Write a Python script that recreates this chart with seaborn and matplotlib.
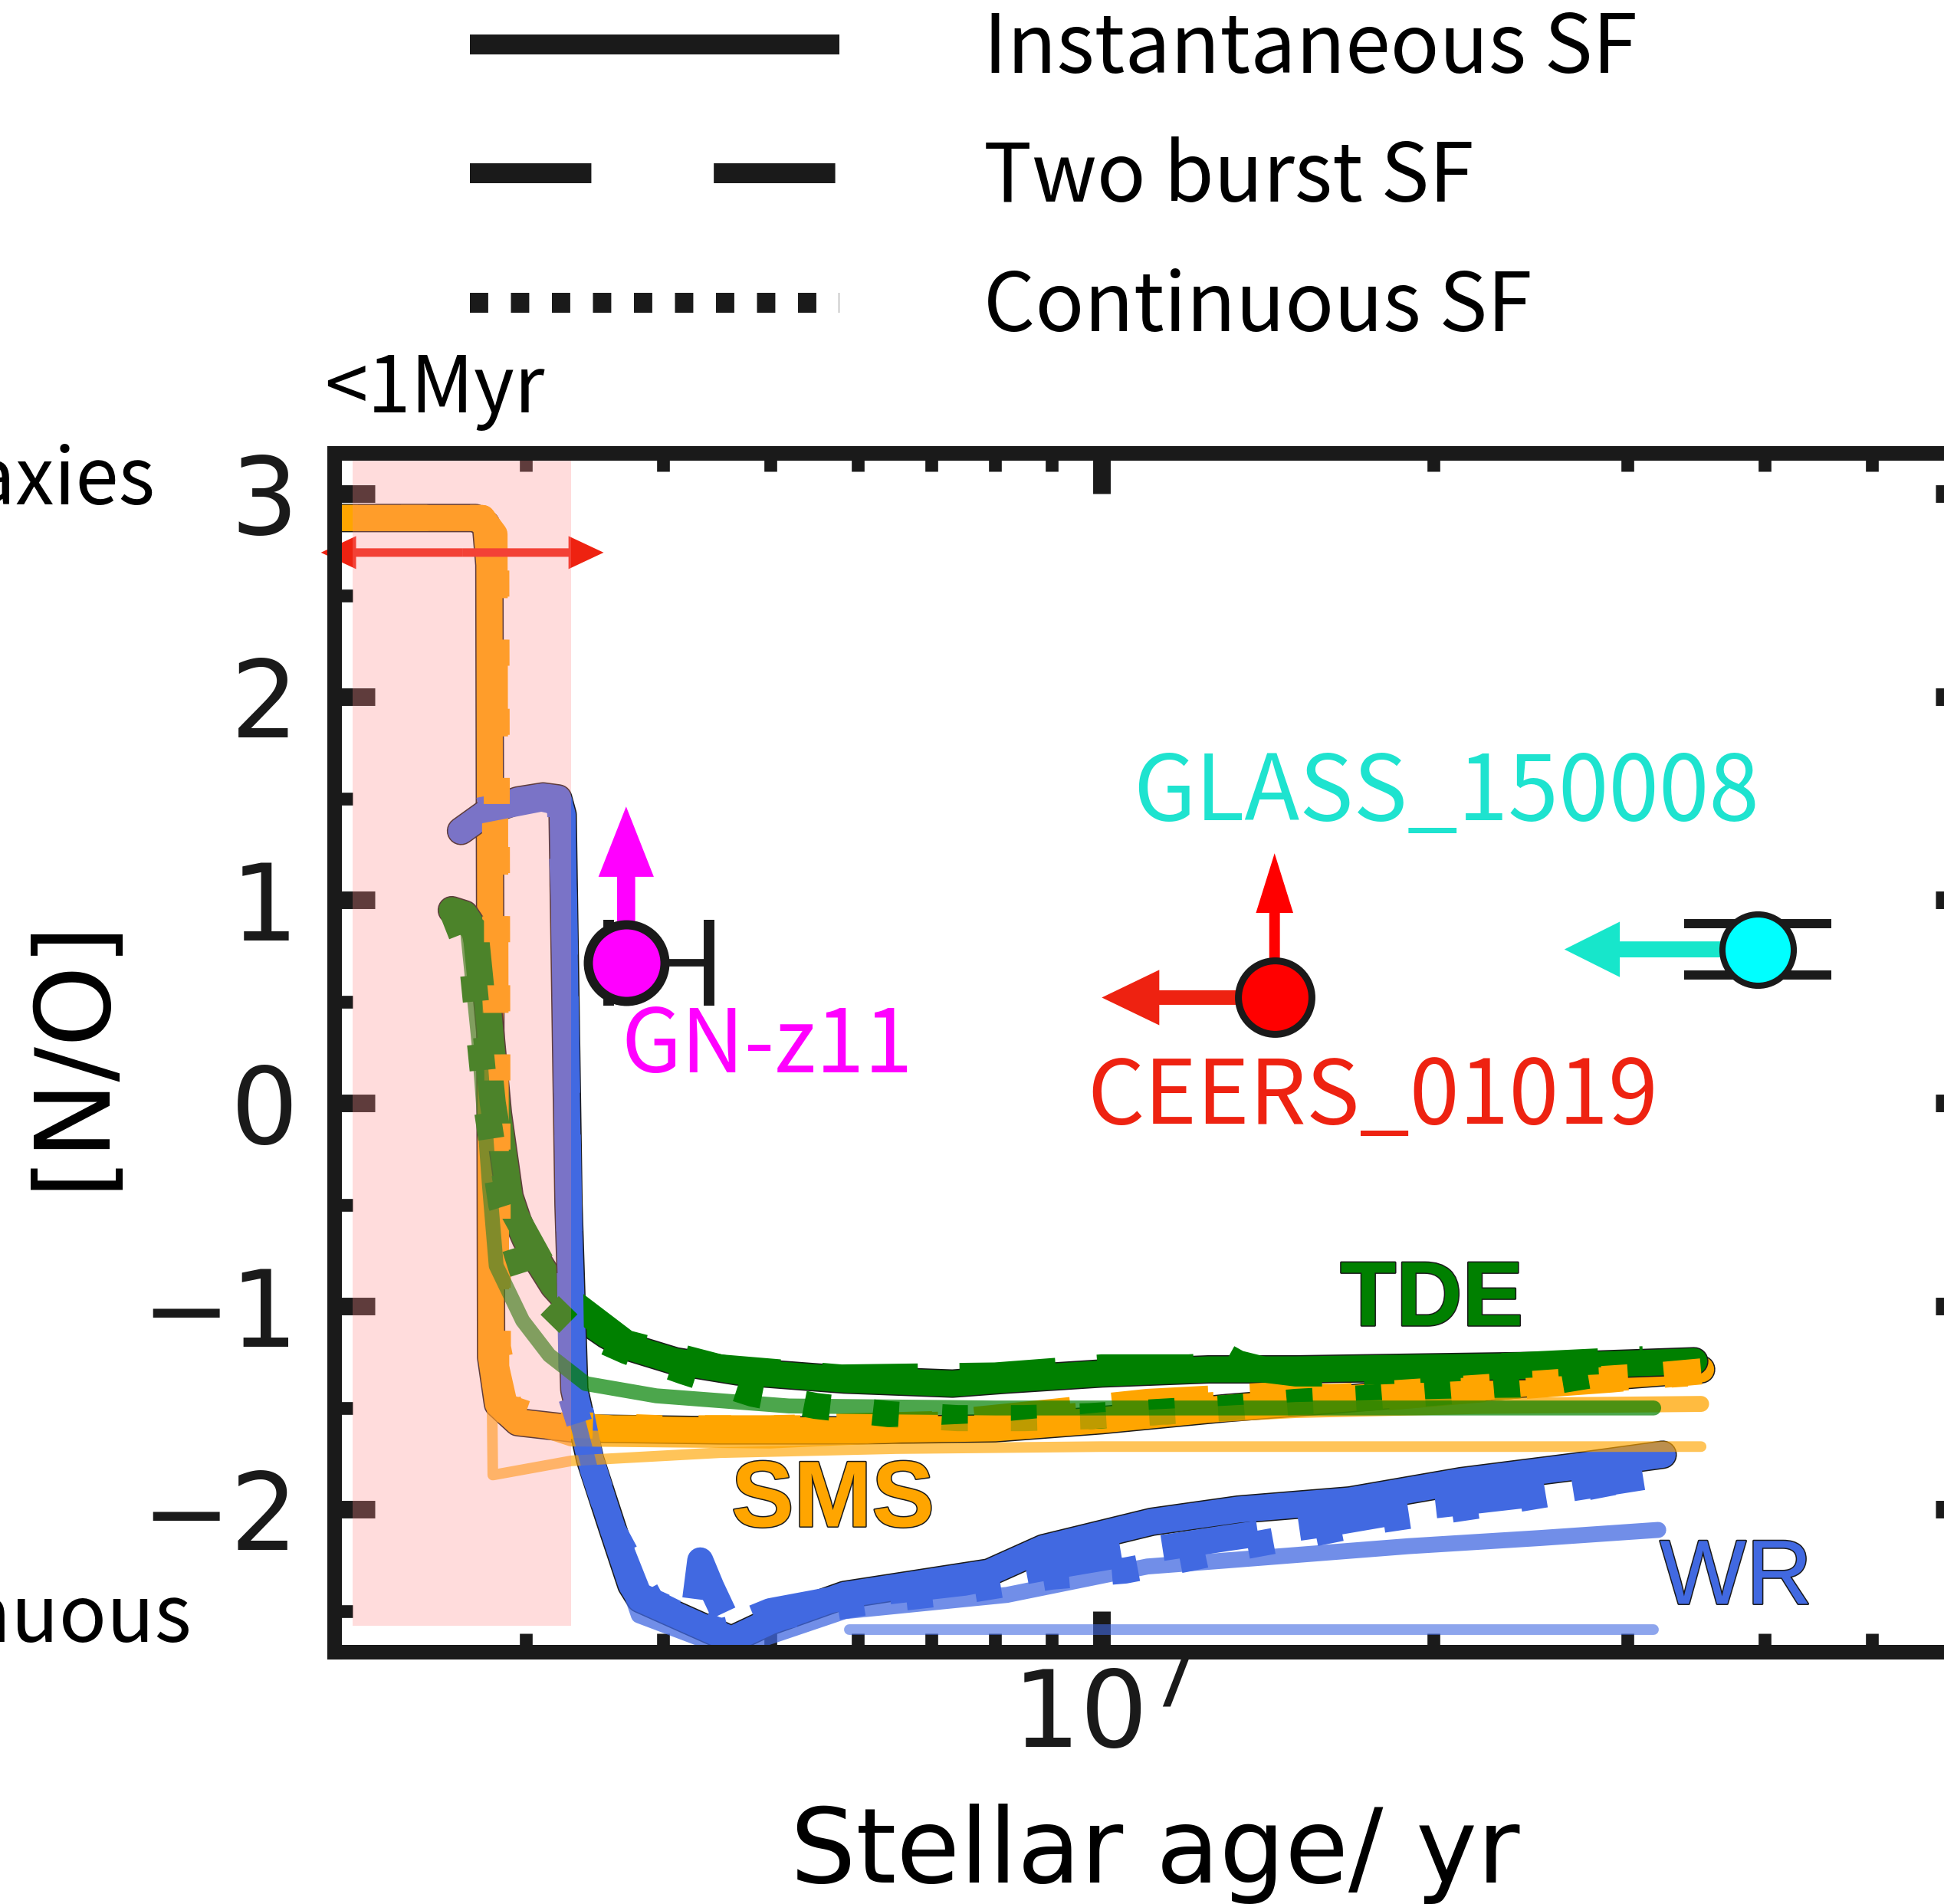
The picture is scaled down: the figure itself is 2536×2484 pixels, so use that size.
import matplotlib
matplotlib.use("Agg")
import matplotlib.pyplot as plt
import matplotlib.patheffects as pe
from matplotlib.lines import Line2D
from matplotlib.patches import FancyArrowPatch, ArrowStyle
from matplotlib.ticker import MultipleLocator, NullFormatter
import seaborn as sns

sns.set_theme(style="ticks")
plt.rcParams["font.family"] = ["DejaVu Sans"]
plt.rcParams["mathtext.fontset"] = "dejavusans"
plt.rcParams["axes.unicode_minus"] = True
for key in ("text.color", "axes.labelcolor", "xtick.color", "ytick.color", "axes.edgecolor"):
    plt.rcParams[key] = "black"
JP = ["Noto Sans CJK JP", "DejaVu Sans"]

# ---------------- model tracks: stellar age [yr] vs [N/O] ----------------
# Supermassive stars (SMS)
sms_inst_age = [2.0e6, 2.70e6, 2.76e6, 2.78e6, 2.79e6, 2.83e6, 2.95e6, 3.3e6, 4.5e6,
                6.0e6, 8.0e6, 1.0e7, 1.3e7, 1.7e7, 2.2e7, 2.8e7, 3.5e7]
sms_inst_no = [2.88, 2.88, 2.85, 2.65, -1.25, -1.48, -1.57, -1.60, -1.61,
               -1.61, -1.60, -1.56, -1.50, -1.45, -1.40, -1.35, -1.31]
sms_burst_age = [2.0e6, 2.74e6, 2.81e6, 2.82e6, 2.88e6, 3.1e6, 3.6e6, 5.0e6, 7.0e6,
                 9.0e6, 1.1e7, 1.4e7, 1.8e7, 2.3e7, 2.9e7, 3.5e7]
sms_burst_no = [2.88, 2.88, 2.80, -1.30, -1.52, -1.58, -1.60, -1.60, -1.58,
                -1.52, -1.47, -1.44, -1.45, -1.40, -1.36, -1.32]
sms_cont_age = [2.0e6, 2.74e6, 2.82e6, 2.83e6, 2.9e6, 3.2e6, 4.0e6, 6.0e6, 8.0e6,
                1.0e7, 1.3e7, 1.7e7, 2.2e7, 2.8e7, 3.4e7]
sms_cont_no = [2.88, 2.88, 2.78, -1.20, -1.50, -1.58, -1.60, -1.60, -1.57,
               -1.53, -1.48, -1.44, -1.40, -1.36, -1.33]
sms_var_a_age = [2.79e6, 2.80e6, 3.3e6, 4.5e6, 6.5e6, 1.0e7, 3.5e7]
sms_var_a_no = [-1.00, -1.83, -1.76, -1.72, -1.70, -1.69, -1.69]
sms_var_b_age = [2.83e6, 2.9e6, 3.3e6, 5.0e6, 8.0e6, 1.0e7, 1.5e7, 2.2e7, 3.5e7]
sms_var_b_no = [-1.20, -1.55, -1.65, -1.66, -1.61, -1.56, -1.51, -1.49, -1.48]

# Tidal disruption events (TDE)
tde_inst_age = [2.57e6, 2.64e6, 2.70e6, 2.75e6, 2.83e6, 2.90e6, 2.95e6, 3.0e6, 3.08e6,
                3.18e6, 3.28e6, 3.4e6, 3.55e6, 3.72e6, 4.1e6, 4.67e6, 5.84e6, 7.32e6,
                8.2e6, 1.0e7, 1.25e7, 1.5e7, 2.0e7, 2.7e7, 3.45e7]
tde_inst_no = [0.95, 0.93, 0.85, 0.67, -0.05, -0.46, -0.58, -0.67, -0.78,
               -0.90, -0.98, -1.07, -1.14, -1.20, -1.27, -1.32, -1.36, -1.38,
               -1.36, -1.33, -1.31, -1.31, -1.30, -1.29, -1.27]
tde_burst_age = [2.57e6, 2.7e6, 2.8e6, 2.9e6, 3.2e6, 3.7e6, 4.5e6, 5.8e6, 8.0e6,
                 1.0e7, 1.2e7, 1.28e7, 1.29e7, 1.33e7, 1.4e7, 1.5e7, 1.6e7, 2.0e7,
                 2.6e7, 3.1e7]
tde_burst_no = [0.95, 0.85, 0.00, -0.50, -0.92, -1.18, -1.30, -1.35, -1.34,
                -1.30, -1.30, -1.29, -1.24, -1.28, -1.31, -1.33, -1.33, -1.31,
                -1.28, -1.26]
tde_cont_age = [2.57e6, 2.68e6, 2.76e6, 2.85e6, 3.0e6, 3.3e6, 3.7e6, 4.17e6, 4.82e6,
                5.5e6, 6.4e6, 7.4e6, 8.5e6, 9.75e6, 1.12e7, 1.3e7, 1.5e7, 1.75e7,
                2.05e7, 2.5e7, 3.0e7]
tde_cont_no = [0.95, 0.70, 0.00, -0.50, -0.88, -1.10, -1.22, -1.32, -1.43,
               -1.49, -1.53, -1.55, -1.55, -1.54, -1.52, -1.50, -1.47, -1.45,
               -1.42, -1.38, -1.31]
tde_var_age = [2.57e6, 2.65e6, 2.72e6, 2.78e6, 2.82e6, 2.98e6, 3.15e6, 3.4e6, 3.94e6,
               5.2e6, 8.0e6, 1.5e7, 3.17e7]
tde_var_no = [0.95, 0.90, 0.30, -0.40, -0.80, -1.07, -1.24, -1.38, -1.44,
              -1.49, -1.50, -1.50, -1.50]

# Wolf-Rayet stars (WR)
wr_inst_age = [2.62e6, 2.78e6, 2.95e6, 3.11e6, 3.21e6, 3.24e6, 3.28e6, 3.32e6, 3.43e6,
               3.59e6, 3.74e6, 3.81e6, 4.61e6, 5.0e6, 5.84e6, 7.9e6, 8.85e6, 1.11e7,
               1.33e7, 1.68e7, 2.12e7, 2.68e7, 3.23e7]
wr_inst_no = [1.34, 1.44, 1.49, 1.51, 1.50, 1.42, -0.50, -1.41, -1.75,
              -2.08, -2.37, -2.44, -2.64, -2.55, -2.42, -2.31, -2.19, -2.06,
              -2.00, -1.955, -1.86, -1.79, -1.73]
wr_burst_age = [2.72e6, 3.1e6, 3.22e6, 3.25e6, 3.3e6, 3.45e6, 3.6e6, 3.8e6, 4.25e6,
                4.32e6, 4.42e6, 4.6e6, 5.0e6, 6.0e6, 7.5e6, 9.0e6, 1.1e7, 1.3e7,
                1.6e7, 2.0e7, 2.5e7, 3.1e7]
wr_burst_no = [1.44, 1.50, 1.48, 1.00, -1.30, -1.80, -2.10, -2.42, -2.55,
               -2.25, -2.38, -2.58, -2.50, -2.42, -2.36, -2.28, -2.20, -2.14,
               -2.07, -1.98, -1.92, -1.84]
wr_cont_age = [3.3e6, 3.6e6, 3.9e6, 4.5e6, 5.2e6, 6.2e6, 7.5e6, 9.0e6, 1.05e7,
               1.2e7, 1.35e7, 1.55e7, 1.8e7, 2.2e7, 2.7e7, 3.15e7]
wr_cont_no = [-1.45, -2.10, -2.45, -2.60, -2.52, -2.45, -2.40, -2.33, -2.30,
              -2.24, -2.18, -2.12, -2.05, -1.98, -1.90, -1.83]
wr_var_a_age = [5.9e6, 3.17e7]
wr_var_a_no = [-2.59, -2.59]
wr_var_b_age = [3.3e6, 3.43e6, 3.6e6, 3.8e6, 4.6e6, 5.84e6, 8.2e6, 1.1e7, 1.3e7,
                1.9e7, 2.5e7, 3.2e7]
wr_var_b_no = [-1.45, -1.80, -2.15, -2.52, -2.69, -2.50, -2.42, -2.28, -2.25,
               -2.18, -2.14, -2.10]

# ---------------- observed galaxies ----------------
gnz11_age, gnz11_no = 3.70e6, 0.69
gnz11_age_err = (0.13e6, 0.70e6)
gnz11_no_limit = 1.46            # lower limit arrow tip

ceers_age, ceers_no = 1.435e7, 0.52
ceers_no_limit = 1.23            # lower limit arrow tip
ceers_age_limit = 1.0e7          # upper limit arrow tip

glass_age, glass_no = 3.94e7, 0.757
glass_no_err = 0.127
glass_age_limit = 2.63e7         # upper limit arrow tip

# young-age window (< 1 Myr) and its marker arrow
young_age_lo, young_age_hi = 2.09e6, 3.30e6
young_no_lo, young_no_hi = -2.57, 3.19
young_arrow_age = (1.955e6, 3.53e6)
young_arrow_no = 2.71

SMS_C, TDE_C, WR_C = "#ffa500", "#008000", "#4169e1"
LW = 24.5

# ---------------- figure ----------------
fig = plt.figure(figsize=(25.36, 24.84), dpi=100, facecolor="white")
ax = fig.add_axes([436 / 2536, 1 - 2155 / 2484, 2142 / 2536, 1564 / 2484])
ax.set_xscale("log")
ax.set_xlim(2.01e6, 6.22e7)
ax.set_ylim(-2.70, 3.20)


def track(x, y, color, style="solid", lw=LW, alpha=1.0, outline=False, z=2.0):
    kw = dict(color=color, linewidth=lw, alpha=alpha, sort=False, estimator=None,
              ax=ax, legend=False, zorder=z)
    if style == "dashed":
        kw["linestyle"] = (0, (3.7, 1.6))
    elif style == "dotted":
        kw["linestyle"] = (0, (1.0, 1.65))
    else:
        kw["solid_joinstyle"] = "round"
    if outline:
        kw["path_effects"] = [pe.Stroke(linewidth=lw + 2.2, foreground="k"), pe.Normal()]
    sns.lineplot(x=x, y=y, **kw)


# instantaneous SF (outlined solid)
track(sms_inst_age, sms_inst_no, SMS_C, outline=True, z=2.0)
track(tde_inst_age, tde_inst_no, TDE_C, outline=True, z=2.01)
track(wr_inst_age, wr_inst_no, WR_C, outline=True, z=2.02)
# two-burst SF
track(sms_burst_age, sms_burst_no, SMS_C, style="dashed", z=2.03)
track(tde_burst_age, tde_burst_no, TDE_C, style="dashed", z=2.04)
track(wr_burst_age, wr_burst_no, WR_C, style="dashed", z=2.05)
# continuous SF
track(sms_cont_age, sms_cont_no, SMS_C, style="dotted", z=2.06)
track(tde_cont_age, tde_cont_no, TDE_C, style="dotted", z=2.07)
track(wr_cont_age, wr_cont_no, WR_C, style="dotted", z=2.08)
# variant tracks (translucent)
track(sms_var_a_age, sms_var_a_no, SMS_C, lw=10, alpha=0.65, z=2.1)
track(sms_var_b_age, sms_var_b_no, SMS_C, lw=15, alpha=0.75, z=2.1)
track(tde_var_age, tde_var_no, TDE_C, lw=14, alpha=0.7, z=2.1)
track(wr_var_a_age, wr_var_a_no, WR_C, lw=10, alpha=0.6, z=2.1)
track(wr_var_b_age, wr_var_b_no, WR_C, lw=15, alpha=0.75, z=2.1)

# young-age window shading, laid over tracks and ticks
ax.fill_between([young_age_lo, young_age_hi], young_no_lo, young_no_hi,
                color=(1.0, 0.55, 0.55), alpha=0.3, lw=0, zorder=2.4)


def arrow(start, end, color, tail, head_w, head_l, z=4.0):
    style = ArrowStyle("simple", head_length=head_l, head_width=head_w, tail_width=tail)
    p = FancyArrowPatch(posA=start, posB=end, arrowstyle=style, mutation_scale=1,
                        color=color, lw=0, shrinkA=0, shrinkB=0, zorder=z, clip_on=False)
    ax.add_patch(p)


# double-headed arrow across the young window
mid = (young_arrow_age[0] * young_arrow_age[1]) ** 0.5
arrow((mid, young_arrow_no), (young_arrow_age[0], young_arrow_no), "#ee2211", 8, 31, 33, z=2.3)
arrow((mid, young_arrow_no), (young_arrow_age[1], young_arrow_no), "#ee2211", 8, 31, 33, z=2.3)

# GN-z11
ax.errorbar([gnz11_age], [gnz11_no], xerr=[[gnz11_age_err[0]], [gnz11_age_err[1]]],
            fmt="none", ecolor="k", elinewidth=7, capsize=40, capthick=10, zorder=4.5)
arrow((gnz11_age, gnz11_no), (gnz11_age, gnz11_no_limit), "#ff00ff", 17, 52, 66)
sns.scatterplot(x=[gnz11_age], y=[gnz11_no], s=72 ** 2, color="#ff00ff",
                edgecolor="k", linewidth=8.6, ax=ax, zorder=5, legend=False)

# CEERS_01019
arrow((ceers_age, ceers_no), (ceers_age, ceers_no_limit), "#ff0000", 10, 35, 56)
arrow((ceers_age, ceers_no), (ceers_age_limit, ceers_no), "#ee2211", 13.7, 52, 54)
sns.scatterplot(x=[ceers_age], y=[ceers_no], s=69 ** 2, color="#ff0000",
                edgecolor="k", linewidth=6.5, ax=ax, zorder=5, legend=False)

# GLASS_150008
ax.errorbar([glass_age], [glass_no], yerr=[[glass_no_err], [glass_no_err]],
            fmt="none", ecolor="k", elinewidth=7, capsize=69, capthick=8.6, zorder=4.5)
arrow((glass_age, glass_no), (glass_age_limit, glass_no), "#17e6cb", 15, 52, 52)
sns.scatterplot(x=[glass_age], y=[glass_no], s=67 ** 2, color="#00ffff",
                edgecolor="k", linewidth=5.8, ax=ax, zorder=5, legend=False)

# object labels
ax.text(3.66e6, 0.151, "GN-z11", color="#ff00ff", fontsize=82, family=JP,
        va="baseline", ha="left", zorder=6)
ax.text(9.70e6, -0.102, "CEERS_01019", color="#ee2211", fontsize=84, family=JP,
        va="baseline", ha="left", zorder=6)
ax.text(1.068e7, 1.392, "GLASS_150008", color="#1ee3cf", fontsize=85, family=JP,
        va="baseline", ha="left", zorder=6)

# channel labels
outline_txt = [pe.withStroke(linewidth=2.2, foreground="k")]
ax.text(1.646e7, -1.094, "TDE", color=TDE_C, fontsize=86, family="Liberation Sans",
        weight="bold", va="baseline", ha="left", zorder=6, path_effects=outline_txt)
ax.text(4.61e6, -2.083, "SMS", color=SMS_C, fontsize=88, family="Liberation Sans",
        weight="bold", va="baseline", ha="left", zorder=6, path_effects=outline_txt)
ax.text(3.21e7, -2.464, "WR", color=WR_C, fontsize=86, family="Liberation Sans",
        va="baseline", ha="left", zorder=6, path_effects=outline_txt)

# texts outside the axes
fig.text(423 / 2536, 1 - 538 / 2484, "<1Myr", fontsize=73, family=JP,
         ha="left", va="baseline")
fig.text(202 / 2536, 1 - 658 / 2484, "Galaxies", fontsize=73, family=JP,
         ha="right", va="baseline")
fig.text(250 / 2536, 1 - 2142 / 2484, "Continuous", fontsize=74, family=JP,
         ha="right", va="baseline")

# legend for star-formation histories
LEG_LW = 18.7
handles = [
    Line2D([], [], color="k", lw=LEG_LW, solid_capstyle="butt"),
    Line2D([], [], color="k", lw=LEG_LW, linestyle=(0, (6.1, 6.15)), dash_capstyle="butt"),
    Line2D([], [], color="k", lw=LEG_LW, linestyle=(0, (0.92, 1.14)), dash_capstyle="butt"),
]
labels = ["Instantaneous SF", "Two burst SF", "Continuous SF"]
leg = ax.legend(handles, labels, loc="upper left", bbox_to_anchor=(613 / 2536, 1 - 10 / 2484),
                bbox_transform=fig.transFigure, frameon=False, borderpad=0, borderaxespad=0,
                handlelength=4.57, handletextpad=1.78, labelspacing=0.57,
                prop={"family": JP, "size": 76})
for t in leg.get_texts():
    t.set_color("black")

# axes styling
for s in ax.spines.values():
    s.set_linewidth(13.7)
    s.set_color("k")
    s.set_zorder(2.5)
ax.xaxis.set_zorder(1.5)
ax.yaxis.set_zorder(1.5)
ax.yaxis.set_major_locator(MultipleLocator(1))
ax.yaxis.set_minor_locator(MultipleLocator(0.5))
ax.xaxis.set_minor_formatter(NullFormatter())
ax.tick_params(which="both", direction="in", top=True, right=True, colors="k")
ax.tick_params(which="major", length=38, width=16.5, labelsize=100)
ax.tick_params(which="minor", length=17, width=12)
ax.tick_params(axis="x", which="major", pad=14)
ax.tick_params(axis="y", which="major", pad=34)

ax.set_xlabel("Stellar age/ yr", fontsize=97, color="black")
ax.set_ylabel("[N/O]", fontsize=97, color="black")
ax.xaxis.set_label_coords(0.5, -0.1266)
ax.yaxis.set_label_coords(-0.1289, 0.5)

fig.savefig("out.png", dpi=100, facecolor="white")
